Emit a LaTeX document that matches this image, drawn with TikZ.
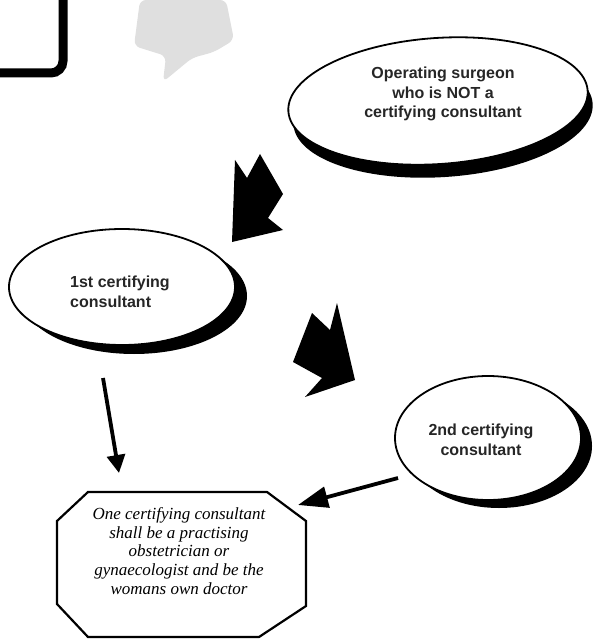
\documentclass[tikz,border=0pt]{standalone}
\usepackage{fontspec}
\setmainfont{Liberation Sans}
\newfontfamily\serifit{Liberation Serif}
\usetikzlibrary{shapes.geometric,shadows,arrows.meta}
\begin{document}
\begin{tikzpicture}[x=1pt,y=-1pt,
  bubble/.style={ellipse, draw, line width=1.8pt, fill=white, inner sep=0pt},
  btext/.style={font=\bfseries\fontsize{16}{19.5}\selectfont, inner sep=0pt, text=black!85},
  blot/.style={fill=black},
  conn/.style={line width=3.8pt},
]
\useasboundingbox (0,0) rectangle (593,639);
% top-left frame (cut off)
\draw[line width=9pt, rounded corners=12pt] (-10,73) -- (63,73) -- (63,-10);
% faded grey shape
\fill[gray!25, rounded corners=6pt] (140,0) -- (226,0) -- (234,40) -- (214,52) -- (192,58) -- (163,82) -- (166,56) -- (134,46) -- cycle;
% operating surgeon
\node[bubble, minimum width=300pt, minimum height=126pt, rotate=4,
  drop shadow={shadow xshift=5pt, shadow yshift=-13pt, fill=black, opacity=1}] (surg) at (438,101) {};
\node[btext, align=center] (surgt) at (443,94) {Operating surgeon\\who is NOT a\\certifying consultant};
% 1st consultant
\node[bubble, minimum width=226pt, minimum height=116pt,
  drop shadow={shadow xshift=12pt, shadow yshift=-9pt, fill=black, opacity=1}] (c1) at (122,287) {};
\node[btext, align=left, anchor=west] (c1t) at (70,292) {1st certifying\\consultant};
% 2nd consultant
\node[bubble, minimum width=186pt, minimum height=124pt,
  drop shadow={shadow xshift=11pt, shadow yshift=-8pt, fill=black, opacity=1}] (c2) at (488,438) {};
\node[btext, align=center] (c2t) at (481,440) {2nd certifying\\consultant};
% jagged arrows
\fill[blot] (235,160) -- (247,178) -- (260,154) -- (283,194) -- (268,218) -- (283,230) -- (232,242) -- cycle;
\fill[blot] (293,362) -- (312,313) -- (330,330) -- (337,303) -- (355,380) -- (305,397) -- (322,378) -- cycle;
% octagon
\draw[line width=2.2pt] (88,492) -- (267,492) -- (306,521) -- (306,606) -- (259,637) -- (88,637) -- (57,604) -- (57,521) -- cycle;
\node[font=\serifit\itshape\fontsize{17}{18.6}\selectfont, align=center, inner sep=0pt] (oct) at (179,551)
  {One certifying consultant\\shall be a practising\\obstetrician or\\gynaecologist and be the\\womans own doctor};
% arrows
\coordinate (a1s) at (103,378);
\coordinate (a1e) at (119,473);
\coordinate (a2s) at (398,478);
\coordinate (a2e) at (298,505);
\draw[conn, -{Triangle[length=18pt,width=18pt]}] (a1s) -- (a1e);
\draw[conn, -{Triangle[length=30pt,width=21pt]}] (a2s) -- (a2e);
\end{tikzpicture}
\end{document}
